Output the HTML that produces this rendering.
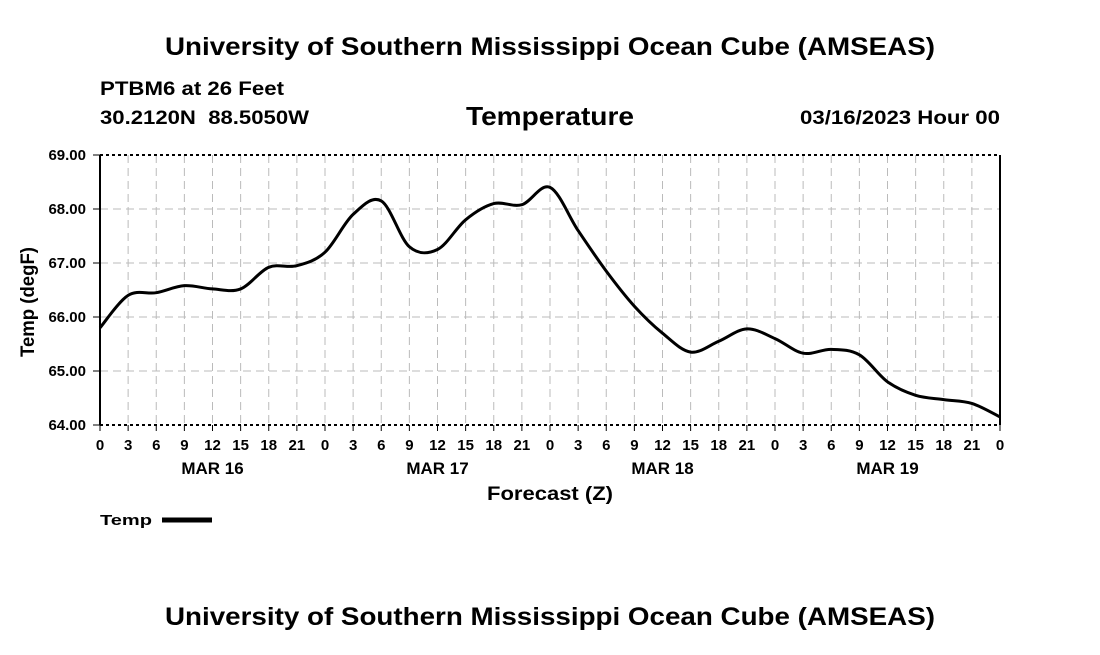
<!DOCTYPE html>
<html><head><meta charset="utf-8"><style>
body{margin:0;background:#fff;width:1100px;height:650px;overflow:hidden;font-family:"Liberation Sans",sans-serif}
svg text{font-family:"Liberation Sans",sans-serif;font-weight:bold;fill:#000}
</style></head><body>
<svg id="c" width="1100" height="650">
<text x="165" y="55" font-size="25" textLength="770" lengthAdjust="spacingAndGlyphs">University of Southern Mississippi Ocean Cube (AMSEAS)</text>
<text x="100" y="95" font-size="19" textLength="184" lengthAdjust="spacingAndGlyphs">PTBM6 at 26 Feet</text>
<text x="100" y="124" font-size="19" textLength="209" lengthAdjust="spacingAndGlyphs" xml:space="preserve">30.2120N  88.5050W</text>
<text x="466" y="125" font-size="26" textLength="168" lengthAdjust="spacingAndGlyphs">Temperature</text>
<text x="800" y="124" font-size="19" textLength="200" lengthAdjust="spacingAndGlyphs">03/16/2023 Hour 00</text>
<g id="grid"></g>
<g id="axes"></g>
<path id="line" fill="none" stroke="#000" stroke-width="3"/>
<text x="487" y="500" font-size="19" textLength="126" lengthAdjust="spacingAndGlyphs">Forecast (Z)</text>
<text transform="translate(34,357) rotate(-90)" font-size="19" textLength="110" lengthAdjust="spacingAndGlyphs">Temp (degF)</text>
<text x="100" y="525" font-size="15" textLength="52" lengthAdjust="spacingAndGlyphs">Temp</text>
<line x1="162" y1="520" x2="212" y2="520" stroke="#000" stroke-width="5"/>
<text x="165" y="625" font-size="25" textLength="770" lengthAdjust="spacingAndGlyphs">University of Southern Mississippi Ocean Cube (AMSEAS)</text>
</svg>
<script>
const hours=[0,3,6,9,12,15,18,21,24,27,30,33,36,39,42,45,48,51,54,57,60,63,66,69,72,75,78,81,84,87,90,93,96];
const temps=[65.8,66.4,66.45,66.58,66.52,66.52,66.92,66.95,67.2,67.9,68.15,67.3,67.25,67.8,68.1,68.08,68.4,67.6,66.85,66.2,65.7,65.35,65.55,65.78,65.6,65.33,65.4,65.3,64.8,64.55,64.47,64.4,64.15];
const yTicks=[64,65,66,67,68,69];
const hourLabels=["0","3","6","9","12","15","18","21"];
const dayLabels=["MAR 16","MAR 17","MAR 18","MAR 19"];
const X0=100,X1=1000,Y0=425,Y1=155,NS="http://www.w3.org/2000/svg";
const xs=h=>X0+(X1-X0)*h/96, ys=v=>Y0-(Y0-Y1)*(v-64)/5;
function mk(t,a,p){const e=document.createElementNS(NS,t);for(const k in a)e.setAttribute(k,a[k]);p.appendChild(e);return e;}
const g=document.getElementById('grid'),ax=document.getElementById('axes');
for(let h=0;h<=96;h+=3){
 const x=xs(h);
 if(h>0&&h<96){const l=mk('line',{x1:x,y1:Y1,x2:x,y2:Y0,stroke:'#bbb','stroke-dasharray':'8,5'},g);
 }
 const tk=mk('line',{x1:x,y1:Y0,x2:x,y2:Y0+6,stroke:'#000'},ax);
 
 const t=mk('text',{x:x,y:450,'font-size':15,'text-anchor':'middle'},ax);
 t.textContent=h===96?"0":hourLabels[(h/3)%8];
 
}
dayLabels.forEach((d,i)=>{const t=mk('text',{x:xs(i*24+12),y:474,'font-size':17,'text-anchor':'middle'},ax);t.textContent=d;
 });
yTicks.forEach(v=>{const y=ys(v);
 if(v>64&&v<69){const l=mk('line',{x1:X0,y1:y,x2:X1,y2:y,stroke:'#bbb','stroke-dasharray':'8,5'},g);
 }
 const tk=mk('line',{x1:X0-7,y1:y,x2:X0,y2:y,stroke:'#000'},ax);
 
 const t=mk('text',{x:X0-14,y:y+5,'font-size':15,'text-anchor':'end'},ax);t.textContent=v.toFixed(2);
 });
[[X0,Y1,X1,Y1,'3,3'],[X0,Y0,X1,Y0,'3,3']].forEach(a=>{const l=mk('line',{x1:a[0],y1:a[1],x2:a[2],y2:a[3],stroke:'#000','stroke-width':2,'stroke-dasharray':a[4]},ax);
 });
[X0,X1].forEach(x=>{const l=mk('line',{x1:x,y1:Y1,x2:x,y2:Y0,stroke:'#000','stroke-width':2},ax);
 });
const P=hours.map((h,i)=>[xs(h),ys(temps[i])]);
let d=`M${P[0][0]},${P[0][1]}`;
for(let i=0;i<P.length-1;i++){const p0=P[Math.max(i-1,0)],p1=P[i],p2=P[i+1],p3=P[Math.min(i+2,P.length-1)];
 d+=` C${p1[0]+(p2[0]-p0[0])/6},${p1[1]+(p2[1]-p0[1])/6} ${p2[0]-(p3[0]-p1[0])/6},${p2[1]-(p3[1]-p1[1])/6} ${p2[0]},${p2[1]}`;}
document.getElementById('line').setAttribute('d',d);
</script>
</body></html>
